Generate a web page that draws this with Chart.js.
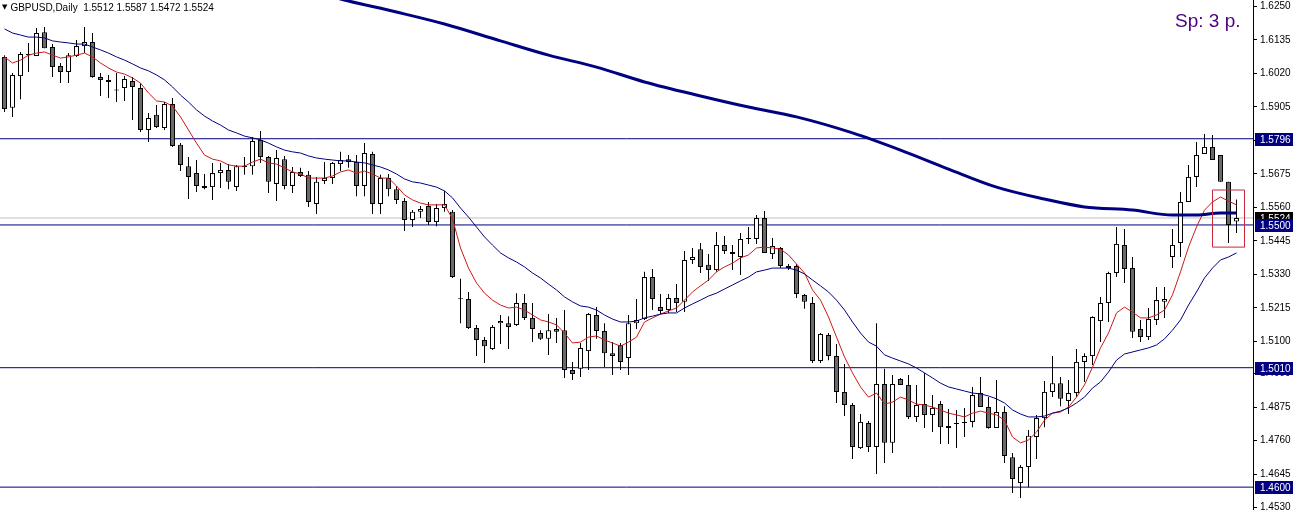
<!DOCTYPE html>
<html>
<head>
<meta charset="utf-8">
<script src="https://cdn.jsdelivr.net/npm/chart.js@4.4.1/dist/chart.umd.min.js"></script>
<style>
  body { margin: 0; background: #fff; }
  #wrap { position: relative; width: 1296px; height: 510px; overflow: hidden; background: #fff; }
  #title { position: absolute; left: 2px; top: 2px; font: 10px "Liberation Sans", Arial, sans-serif; line-height: 12px; color: #000; white-space: pre; }
  #title .arr { font: 7px "DejaVu Sans", sans-serif; vertical-align: 2px; margin-right: 3px; }
  #spread { position: absolute; left: 1175px; top: 11px; font: 19px "Liberation Sans", Arial, sans-serif; line-height: 19px; color: #4B0082; }
</style>
</head>
<body>
<div id="wrap">
  <canvas id="chart" width="1296" height="510"></canvas>
  <div id="title"><span class="arr">▼</span>GBPUSD,Daily  1.5512 1.5587 1.5472 1.5524</div>
  <div id="spread">Sp: 3 p.</div>
</div>
<script>
// price axis labels (MT4 style)
const tickLabels = ['1.6250','1.6135','1.6020','1.5905','1.5790','1.5675','1.5560','1.5445',
  '1.5330','1.5215','1.5100','1.4990','1.4875','1.4760','1.4645','1.4530'];

// daily candles, oldest first
const opens = [
  1.6077,1.5902,1.6011,1.6087,1.6080,1.6162,1.6111,1.6046,1.6025,1.6080,
  1.6114,1.6128,1.6008,1.5998,1.5963,1.5970,1.5994,1.5970,1.5826,1.5878,
  1.5833,1.5915,1.5775,1.5702,1.5678,1.5634,1.5630,1.5678,1.5689,1.5630,
  1.5699,1.5702,1.5792,1.5733,1.5641,1.5726,1.5634,1.5682,1.5672,1.5572,
  1.5651,1.5661,1.5709,1.5726,1.5716,1.5634,1.5744,1.5572,1.5661,1.5623,
  1.5582,1.5517,1.5545,1.5565,1.5510,1.5558,1.5545,1.5246,1.5246,1.5146,
  1.5105,1.5074,1.5163,1.5163,1.5157,1.5232,1.5181,1.5129,1.5109,1.5143,
  1.5139,1.5002,1.5006,1.5067,1.5191,1.5136,1.5060,1.5088,1.5043,1.5163,
  1.5177,1.5321,1.5218,1.5208,1.5249,1.5236,1.5380,1.5417,1.5363,1.5345,
  1.5431,1.5407,1.5390,1.5455,1.5452,1.5524,1.5400,1.5421,1.5359,1.5359,
  1.5260,1.5232,1.5033,1.5122,1.5050,1.4927,1.4882,1.4734,1.4820,1.4738,
  1.4954,1.4752,1.4971,1.4951,1.4841,1.4885,1.4848,1.4885,1.4803,1.4820,
  1.4824,1.4824,1.4923,1.4875,1.4803,1.4858,1.4703,1.4614,1.4669,1.4772,
  1.4837,1.4927,1.4957,1.4896,1.4923,1.5030,1.5050,1.5170,1.5232,1.5335,
  1.5431,1.5352,1.5143,1.5115,1.5174,1.5236,1.5390,1.5438,1.5579,1.5665,
  1.5744,1.5768,1.5740,1.5648,1.5512];
const highs = [
  1.6083,1.6022,1.6094,1.6125,1.6176,1.6180,1.6121,1.6056,1.6090,1.6135,
  1.6180,1.6159,1.6022,1.6015,1.6022,1.6011,1.6008,1.5987,1.5884,1.5912,
  1.5922,1.5936,1.5781,1.5733,1.5723,1.5675,1.5713,1.5713,1.5709,1.5706,
  1.5733,1.5802,1.5823,1.5737,1.5757,1.5737,1.5699,1.5696,1.5685,1.5665,
  1.5716,1.5716,1.5751,1.5740,1.5740,1.5781,1.5751,1.5672,1.5675,1.5634,
  1.5593,1.5551,1.5565,1.5579,1.5572,1.5617,1.5551,1.5315,1.5270,1.5157,
  1.5115,1.5157,1.5191,1.5187,1.5266,1.5263,1.5232,1.5139,1.5194,1.5181,
  1.5208,1.5030,1.5095,1.5198,1.5218,1.5163,1.5098,1.5095,1.5191,1.5246,
  1.5339,1.5349,1.5263,1.5263,1.5297,1.5411,1.5421,1.5438,1.5400,1.5476,
  1.5462,1.5431,1.5472,1.5493,1.5534,1.5548,1.5455,1.5424,1.5366,1.5366,
  1.5263,1.5253,1.5129,1.5129,1.5091,1.5023,1.4889,1.4851,1.4827,1.5163,
  1.5006,1.4985,1.4975,1.4985,1.4951,1.4992,1.4916,1.4896,1.4868,1.4865,
  1.4872,1.4944,1.4978,1.4909,1.4968,1.4878,1.4717,1.4676,1.4796,1.4848,
  1.4964,1.5050,1.4978,1.4968,1.5074,1.5060,1.5187,1.5253,1.5339,1.5493,
  1.5486,1.5390,1.5174,1.5215,1.5287,1.5287,1.5486,1.5613,1.5706,1.5785,
  1.5812,1.5809,1.5740,1.5648,1.5587];
const lows = [
  1.5888,1.5871,1.5932,1.6025,1.6080,1.6107,1.6008,1.5987,1.5987,1.6077,
  1.6090,1.6005,1.5943,1.5936,1.5922,1.5926,1.5860,1.5819,1.5785,1.5833,
  1.5826,1.5768,1.5685,1.5589,1.5613,1.5623,1.5586,1.5627,1.5623,1.5617,
  1.5672,1.5672,1.5713,1.5610,1.5582,1.5623,1.5610,1.5665,1.5562,1.5538,
  1.5641,1.5641,1.5685,1.5696,1.5599,1.5599,1.5538,1.5538,1.5599,1.5572,
  1.5479,1.5493,1.5524,1.5500,1.5496,1.5545,1.5318,1.5163,1.5143,1.5050,
  1.5026,1.5071,1.5091,1.5074,1.5153,1.5174,1.5098,1.5105,1.5054,1.5095,
  1.4975,1.4968,1.4978,1.5002,1.5109,1.5012,1.4985,1.5002,1.4985,1.5143,
  1.5174,1.5208,1.5194,1.5198,1.5201,1.5201,1.5366,1.5335,1.5308,1.5339,
  1.5400,1.5345,1.5328,1.5435,1.5435,1.5404,1.5383,1.5352,1.5345,1.5249,
  1.5212,1.5026,1.5026,1.5036,1.4889,1.4844,1.4697,1.4731,1.4721,1.4645,
  1.4683,1.4717,1.4951,1.4834,1.4824,1.4803,1.4789,1.4748,1.4748,1.4734,
  1.4772,1.4806,1.4875,1.4800,1.4803,1.4683,1.4580,1.4563,1.4600,1.4697,
  1.4806,1.4909,1.4878,1.4851,1.4909,1.4961,1.5019,1.5098,1.5167,1.5321,
  1.5301,1.5112,1.5098,1.5105,1.5157,1.5181,1.5352,1.5390,1.5579,1.5630,
  1.5744,1.5723,1.5648,1.5438,1.5472];
const closes = [
  1.5898,1.6015,1.6087,1.6083,1.6159,1.6107,1.6042,1.6025,1.6083,1.6114,
  1.6128,1.6008,1.5998,1.5991,1.5962,1.6001,1.5974,1.5826,1.5867,1.5836,
  1.5915,1.5771,1.5706,1.5665,1.5634,1.5627,1.5678,1.5689,1.5648,1.5702,
  1.5702,1.5788,1.5733,1.5648,1.5730,1.5634,1.5682,1.5668,1.5579,1.5648,
  1.5661,1.5713,1.5723,1.5716,1.5634,1.5747,1.5572,1.5661,1.5623,1.5586,
  1.5517,1.5545,1.5555,1.5510,1.5558,1.5572,1.5321,1.5245,1.5146,1.5105,
  1.5084,1.5150,1.5170,1.5150,1.5232,1.5181,1.5143,1.5109,1.5139,1.5133,
  1.5002,1.4988,1.5078,1.5194,1.5136,1.5060,1.5050,1.5030,1.5163,1.5174,
  1.5321,1.5246,1.5205,1.5249,1.5232,1.5380,1.5390,1.5356,1.5345,1.5431,
  1.5411,1.5400,1.5452,1.5452,1.5524,1.5404,1.5428,1.5359,1.5352,1.5263,
  1.5236,1.5033,1.5126,1.5050,1.4927,1.4882,1.4738,1.4824,1.4738,1.4954,
  1.4752,1.4954,1.4951,1.4841,1.4882,1.4848,1.4872,1.4806,1.4810,1.4817,
  1.4820,1.4916,1.4875,1.4803,1.4858,1.4707,1.4628,1.4669,1.4776,1.4837,
  1.4927,1.4957,1.4903,1.4923,1.5030,1.5050,1.5184,1.5232,1.5335,1.5435,
  1.5349,1.5133,1.5115,1.5177,1.5242,1.5246,1.5431,1.5579,1.5665,1.5740,
  1.5768,1.5723,1.5648,1.5500,1.5524];

// moving averages
const fastMA = [
  1.6077,1.6056,1.6066,1.6083,1.6090,1.6094,1.6083,1.6073,1.6077,1.6083,
  1.6090,1.6077,1.6056,1.6039,1.6025,1.6018,1.6005,1.5987,1.5953,1.5926,
  1.5922,1.5908,1.5871,1.5826,1.5781,1.5740,1.5726,1.5720,1.5706,1.5702,
  1.5702,1.5716,1.5726,1.5713,1.5709,1.5696,1.5682,1.5675,1.5661,1.5661,
  1.5661,1.5668,1.5682,1.5689,1.5678,1.5685,1.5675,1.5661,1.5661,1.5634,
  1.5603,1.5586,1.5575,1.5569,1.5569,1.5569,1.5521,1.5421,1.5352,1.5301,
  1.5266,1.5242,1.5225,1.5215,1.5218,1.5208,1.5191,1.5174,1.5167,1.5157,
  1.5129,1.5095,1.5098,1.5115,1.5119,1.5105,1.5095,1.5084,1.5098,1.5115,
  1.5167,1.5181,1.5194,1.5205,1.5215,1.5242,1.5270,1.5291,1.5311,1.5339,
  1.5356,1.5369,1.5387,1.5397,1.5421,1.5424,1.5421,1.5417,1.5397,1.5366,
  1.5335,1.5277,1.5242,1.5184,1.5115,1.5047,1.4992,1.4944,1.4909,1.4923,
  1.4885,1.4892,1.4909,1.4899,1.4885,1.4882,1.4875,1.4865,1.4854,1.4848,
  1.4841,1.4854,1.4861,1.4854,1.4848,1.4830,1.4772,1.4752,1.4762,1.4789,
  1.4830,1.4854,1.4858,1.4875,1.4909,1.4951,1.5012,1.5078,1.5129,1.5198,
  1.5218,1.5201,1.5181,1.5181,1.5191,1.5208,1.5260,1.5339,1.5424,1.5493,
  1.5551,1.5579,1.5596,1.5582,1.5569];
const slowMA = [
  1.6173,1.6159,1.6152,1.6145,1.6145,1.6142,1.6132,1.6128,1.6125,1.6121,
  1.6121,1.6111,1.6101,1.6090,1.6077,1.6066,1.6053,1.6039,1.6029,1.6015,
  1.5998,1.5974,1.5946,1.5922,1.5895,1.5874,1.5857,1.5843,1.5826,1.5816,
  1.5805,1.5799,1.5792,1.5781,1.5768,1.5757,1.5751,1.5747,1.5737,1.5730,
  1.5726,1.5723,1.5720,1.5720,1.5716,1.5713,1.5706,1.5699,1.5689,1.5675,
  1.5658,1.5648,1.5644,1.5637,1.5630,1.5617,1.5593,1.5558,1.5527,1.5493,
  1.5459,1.5431,1.5404,1.5387,1.5373,1.5356,1.5335,1.5318,1.5297,1.5277,
  1.5253,1.5236,1.5222,1.5218,1.5208,1.5191,1.5177,1.5167,1.5167,1.5170,
  1.5181,1.5187,1.5194,1.5198,1.5198,1.5215,1.5229,1.5242,1.5256,1.5266,
  1.5280,1.5294,1.5308,1.5321,1.5339,1.5345,1.5352,1.5352,1.5352,1.5345,
  1.5332,1.5311,1.5291,1.5270,1.5242,1.5208,1.5167,1.5129,1.5098,1.5084,
  1.5054,1.5043,1.5033,1.5023,1.5009,1.4992,1.4975,1.4957,1.4944,1.4937,
  1.4930,1.4923,1.4920,1.4913,1.4903,1.4889,1.4865,1.4851,1.4841,1.4841,
  1.4844,1.4854,1.4861,1.4872,1.4889,1.4909,1.4940,1.4961,1.4995,1.5036,
  1.5057,1.5064,1.5071,1.5078,1.5088,1.5109,1.5139,1.5174,1.5225,1.5270,
  1.5318,1.5352,1.5380,1.5390,1.5404];
// long MA, sampled every few bars (enters the window from above)
const longMAIdx = [40,43,49,55,62,68,74,80,87,93,99,106,112,118,124,130,135,141,146,149,152,154];
const longMA = [1.6290,1.6269,1.6231,1.6190,1.6132,1.6083,1.6042,1.5991,1.5943,1.5905,1.5871,
  1.5816,1.5757,1.5692,1.5630,1.5589,1.5562,1.5551,1.5534,1.5534,1.5541,1.5541];

// horizontal levels, last price, marked box
const levels = [1.5796, 1.5500, 1.5010, 1.4600];
const lastPrice = 1.5524;
const boxBars = [151, 155];
const boxPrices = [1.5620, 1.5424];

const xMin = -0.5625, xMax = xMin + 1253 / 8;
const yMin = 1.45215, yMax = 1.62723;

const navy = '#000080';

const idx = opens.map((_, i) => i);
const wicks = idx.map(i => ({ x: i, y: [lows[i], highs[i]] }));
const bodies = idx.map(i => ({ x: i, y: [opens[i], closes[i]] }));
const bodyColors = idx.map(i => closes[i] >= opens[i] ? '#ffffff' : '#6a6a6a');

const levelSets = levels.map(v => ({
  type: 'line', data: [{ x: xMin, y: v }, { x: xMax, y: v }],
  borderColor: navy, borderWidth: 1, pointRadius: 0, order: 5
}));

// price tags on the axis
const priceTags = {
  id: 'priceTags',
  afterDraw(chart) {
    const ctx = chart.ctx, ys = chart.scales.y;
    const left = chart.chartArea.right + 2;
    const tag = (v, bg) => {
      const py = Math.round(ys.getPixelForValue(v));
      ctx.fillStyle = bg;
      ctx.fillRect(left, py - 6, 38, 13);
      ctx.fillStyle = '#fff';
      ctx.font = '10px "Liberation Sans", Arial, sans-serif';
      ctx.textBaseline = 'middle';
      ctx.textAlign = 'left';
      ctx.fillText(v.toFixed(4), left + 5, py + 1);
    };
    ctx.save();
    tag(lastPrice, '#000');
    levels.forEach(v => tag(v, navy));
    ctx.restore();
  }
};

Chart.defaults.font.family = '"Liberation Sans", Arial, sans-serif';

new Chart(document.getElementById('chart'), {
  type: 'bar',
  data: {
    datasets: [
      { type: 'line', data: [{ x: xMin, y: lastPrice }, { x: xMax, y: lastPrice }],
        borderColor: '#c0c0c0', borderWidth: 1, pointRadius: 0, order: 6 },
      ...levelSets,
      { type: 'bar', data: wicks, backgroundColor: '#000', borderWidth: 0,
        barThickness: 1, grouped: false, inflateAmount: 0, order: 3 },
      { type: 'bar', data: bodies, backgroundColor: bodyColors, borderColor: '#000',
        borderWidth: 1, borderSkipped: false, barThickness: 5, minBarLength: 1,
        grouped: false, inflateAmount: 0, order: 2 },
      { type: 'line', data: longMAIdx.map((x, i) => ({ x, y: longMA[i] })),
        borderColor: navy, borderWidth: 3, pointRadius: 0, cubicInterpolationMode: 'monotone', order: 1 },
      { type: 'line', data: idx.map(i => ({ x: i, y: slowMA[i] })),
        borderColor: navy, borderWidth: 1, pointRadius: 0, order: 1 },
      { type: 'line', data: idx.map(i => ({ x: i, y: fastMA[i] })),
        borderColor: '#d01818', borderWidth: 1, pointRadius: 0, order: 1 },
      { type: 'line', data: [
          { x: boxBars[0], y: boxPrices[0] }, { x: boxBars[1], y: boxPrices[0] },
          { x: boxBars[1], y: boxPrices[1] }, { x: boxBars[0], y: boxPrices[1] },
          { x: boxBars[0], y: boxPrices[0] }],
        borderColor: '#c8283c', borderWidth: 1, pointRadius: 0, order: 0 }
    ]
  },
  options: {
    responsive: false,
    animation: false,
    devicePixelRatio: 1,
    layout: { padding: 0, autoPadding: false },
    plugins: { legend: { display: false }, tooltip: { enabled: false } },
    scales: {
      x: { type: 'linear', display: false, min: xMin, max: xMax, offset: false },
      y: {
        type: 'linear', position: 'right', min: yMin, max: yMax, beginAtZero: false,
        afterBuildTicks: s => { s.ticks = tickLabels.map(t => ({ value: parseFloat(t) })); },
        afterFit: s => { s.width = 43; s.paddingTop = 0; s.paddingBottom = 0; },
        border: { color: '#000', width: 1 },
        grid: { drawOnChartArea: false, drawTicks: true, tickLength: 4, color: '#000' },
        ticks: { autoSkip: false, padding: 3, color: '#000', font: { size: 10 },
          callback: (v, i) => tickLabels[i] }
      }
    }
  },
  plugins: [priceTags]
});
</script>
</body>
</html>
